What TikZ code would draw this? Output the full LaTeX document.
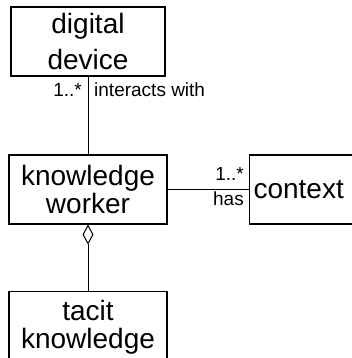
\documentclass[tikz,border=0pt]{standalone}
\usepackage{fontspec}
\setmainfont{Liberation Sans}
\usetikzlibrary{arrows.meta}

\tikzset{
  box/.style={draw=black, line width=1.1pt, align=center, inner sep=4pt, font=\fontsize{28}{25}\selectfont},
  lbl/.style={inner sep=0pt, font=\fontsize{19}{20}\selectfont},
  link/.style={draw=black, line width=1pt}
}

\begin{document}
\begin{tikzpicture}[x=1pt, y=-1pt]

\useasboundingbox (0,0) rectangle (352,358);
\clip (0,0) rectangle (352,358);

\node[box , minimum width=154 , minimum height=69] (device) at (88,41.5) {digital\\[8pt]device} ;
\node[box , minimum width=158 , minimum height=69] (worker) at (88,189.5) {knowledge\\worker} ;
\node[box , anchor=west , minimum height=69] (context) at (249,189.5) {context\hspace{12pt}} ;
\node[box , anchor=north , minimum width=158 , minimum height=72] (tacit) at (88,291) {tacit\\[3pt]knowledge} ;

\draw[link] (device) -- (worker) ;
\draw[link] (worker) -- (context) ;
\draw[link , {Diamond[open , length=20pt , width=11pt]}-] (worker) -- (tacit) ;

\node[lbl , anchor=base west] (interacts) at (94,97) {interacts with} ;
\node[lbl , anchor=base east] (devmult) at (82,97) {1..*} ;
\node[lbl , anchor=base east] (ctxmult) at (244,180) {1..*} ;
\node[lbl , anchor=base east] (has) at (244,205) {has} ;

\end{tikzpicture}
\end{document}
